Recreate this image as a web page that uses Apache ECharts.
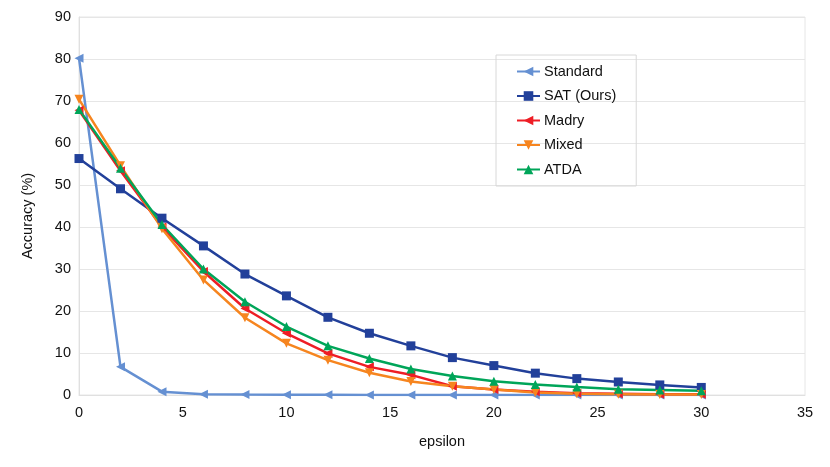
<!DOCTYPE html>
<html>
<head>
<meta charset="utf-8">
<script src="https://cdn.jsdelivr.net/npm/echarts@6/dist/echarts.min.js"></script>
<style>
html,body{margin:0;padding:0;background:#fff;}
#chart{width:830px;height:467px;}
</style>
</head>
<body>
<div id="chart"></div>
<script>
var epsilon = [0, 2, 4, 6, 8, 10, 12, 14, 16, 18, 20, 22, 24, 26, 28, 30];
var standard = [80.2, 6.7, 0.8, 0.2, 0.1, 0.05, 0.03, 0.02, 0.02, 0.02, 0.02, 0.02, 0.02, 0.02, 0.02, 0.02];
var sat = [56.3, 49.1, 42.1, 35.5, 28.8, 23.6, 18.5, 14.7, 11.7, 8.9, 7.0, 5.2, 3.9, 3.1, 2.4, 1.8];
var madry = [67.8, 53.4, 40.0, 29.4, 20.6, 14.7, 9.9, 6.7, 4.8, 2.1, 1.3, 0.8, 0.4, 0.3, 0.2, 0.2];
var mixed = [70.4, 54.6, 39.6, 27.4, 18.4, 12.3, 8.3, 5.3, 3.2, 2.1, 1.3, 0.6, 0.3, 0.2, 0.1, 0.1];
var atda = [68.0, 54.0, 40.6, 30.0, 22.2, 16.3, 11.7, 8.7, 6.2, 4.5, 3.3, 2.5, 1.9, 1.35, 1.2, 1.0];
var xTicks = [0, 5, 10, 15, 20, 25, 30, 35];
var yTicks = [0, 10, 20, 30, 40, 50, 60, 70, 80, 90];

function pairs(arr) { return epsilon.map(function (e, i) { return [e, arr[i]]; }); }

var FONT = 'Liberation Sans';
function mk(name, data, color, symbol, rot, size) {
  return {
    name: name, type: 'line', data: pairs(data),
    symbol: symbol, symbolRotate: rot, symbolSize: size,
    lineStyle: { color: color, width: 2.5 },
    itemStyle: { color: color },
    emphasis: { disabled: true },
    animation: false
  };
}

var chart = echarts.init(document.getElementById('chart'));
chart.setOption({
  backgroundColor: '#fff',
  textStyle: { fontFamily: FONT },
  grid: { left: 79, right: 25, top: 17, bottom: 72, show: true, borderColor: '#e6e6e6', borderWidth: 1 },
  legend: {
    orient: 'vertical', left: 496, top: 55,
    padding: [9, 20, 9, 20], itemGap: 9.5,
    itemWidth: 23, itemHeight: 12,
    borderColor: '#d8d8d8', borderWidth: 1, borderRadius: 0,
    textStyle: { fontFamily: FONT, fontSize: 14.5, color: '#111', padding: [0, 0, 0, -1] },
    data: ['Standard', 'SAT (Ours)', 'Madry', 'Mixed', 'ATDA']
  },
  xAxis: {
    type: 'value', min: xTicks[0], max: xTicks[xTicks.length - 1], interval: 5,
    name: 'epsilon', nameLocation: 'middle', nameGap: 39,
    nameTextStyle: { fontFamily: FONT, fontSize: 14.5, color: '#111' },
    axisLine: { show: true, lineStyle: { color: '#e0e0e0' } },
    axisTick: { show: false },
    axisLabel: { fontFamily: FONT, fontSize: 14.5, color: '#111', margin: 10 },
    splitLine: { show: false }
  },
  yAxis: {
    type: 'value', min: yTicks[0], max: yTicks[yTicks.length - 1], interval: 10,
    name: 'Accuracy (%)', nameLocation: 'middle', nameGap: 44, nameRotate: 90,
    nameTextStyle: { fontFamily: FONT, fontSize: 14.5, color: '#111', padding: [0, 20, 0, 0] },
    axisLine: { show: true, lineStyle: { color: '#e0e0e0' } },
    axisTick: { show: false },
    axisLabel: { fontFamily: FONT, fontSize: 14.5, color: '#111', margin: 8 },
    splitLine: { show: true, lineStyle: { color: '#e6e6e6', width: 1 } }
  },
  series: [
    mk('Standard', standard, '#6590d2', 'triangle', 90, 9),
    mk('SAT (Ours)', sat, '#22409a', 'rect', 0, 9),
    mk('Madry', madry, '#ee1d25', 'triangle', 90, 9),
    mk('Mixed', mixed, '#f6851f', 'triangle', 180, 9),
    mk('ATDA', atda, '#00a559', 'triangle', 0, 9)
  ]
});
</script>
</body>
</html>
